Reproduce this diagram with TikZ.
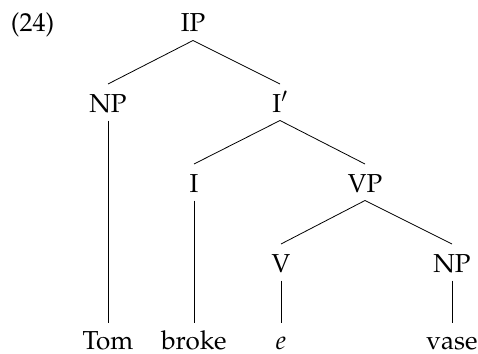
\documentclass[tikz,border=0pt]{standalone}
\usepackage[T1]{fontenc}
\usepackage{mathpazo}
\begin{document}
\begin{tikzpicture}[x=1pt,y=-1pt,
  cat/.style={anchor=base,inner sep=0pt,outer sep=0pt,
    text height=28pt,text depth=8.5pt,font=\fontsize{26}{31}\selectfont},
  word/.style={cat,text height=26.5pt,text depth=0pt},
  branch/.style={line width=0.8pt}]
  \useasboundingbox (0,0) rectangle (478,353);
  % example number
  \node[cat] (num) at (32.5,32) {(24)};
  % tree nodes
  \node[cat] (ip)   at (193,32)  {IP};
  \node[cat] (np1)  at (108,112) {NP};
  \node[cat] (ibar) at (280,112) {I$'$};
  \node[cat] (i)    at (194,192) {I};
  \node[cat] (vp)   at (365,192) {VP};
  \node[cat] (v)    at (281,272) {V};
  \node[cat] (np2)  at (452,272) {NP};
  % terminals
  \node[word] (tom)   at (108,349.5) {Tom};
  \node[word] (broke) at (194,349.5) {broke};
  \node[word] (e)     at (281,349.5) {\textit{e}};
  \node[word] (vase)  at (452,349.5) {vase};
  % branches
  \draw[branch] (ip.south) -- (np1.north);
  \draw[branch] (ip.south) -- (ibar.north);
  \draw[branch] (np1.south) -- (tom.north);
  \draw[branch] (ibar.south) -- (i.north);
  \draw[branch] (ibar.south) -- (vp.north);
  \draw[branch] (i.south) -- (broke.north);
  \draw[branch] (vp.south) -- (v.north);
  \draw[branch] (vp.south) -- (np2.north);
  \draw[branch] (v.south) -- (e.north);
  \draw[branch] (np2.south) -- (vase.north);
\end{tikzpicture}
\end{document}
